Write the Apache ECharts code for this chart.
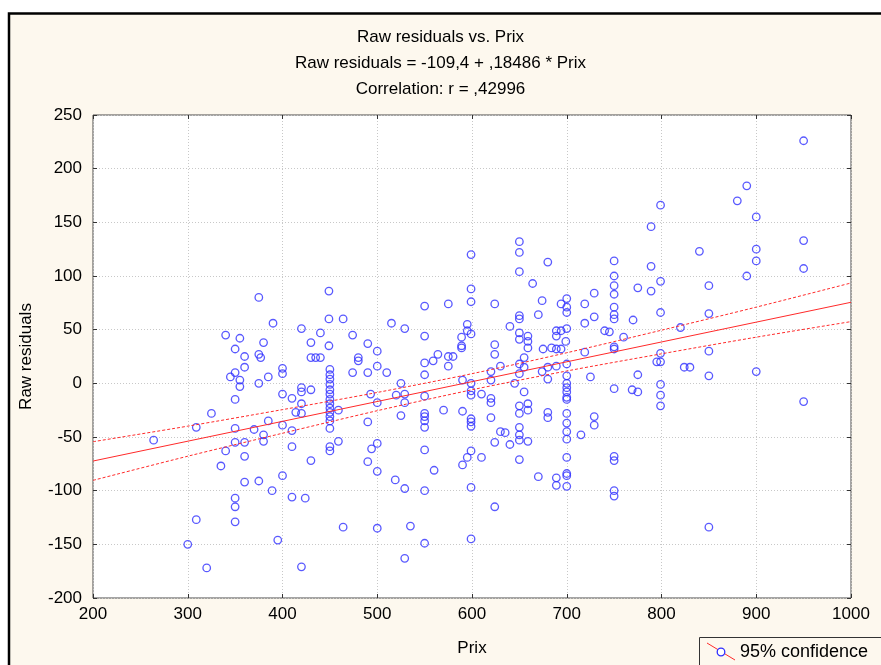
<!DOCTYPE html>
<html>
<head>
<meta charset="utf-8">
<script src="https://cdn.jsdelivr.net/npm/echarts@6/dist/echarts.min.js"></script>
<style>
  html, body { margin: 0; padding: 0; background: #fff; }
  #chart { width: 881px; height: 665px; }
</style>
</head>
<body>
<div id="chart"></div>
<script>
// residual points: [Prix, Raw residual]
const scatterPoints = [
  [375,80],[390,56],[340,45],[355,42],[380,38],[350,32],[360,25],[375,27],[377,24],
  [360,15],[350,10],[345,6],[355,3],[355,-3],[375,0],[385,6],[400,14],[400,9],[350,-15],[400,-10],[410,-14],
  [325,-28],[309,-41],[264,-53],[350,-42],[370,-43],[385,-35],[400,-39],[410,-44],[350,-55],[360,-55],[380,-48],[380,-54],
  [340,-63],[360,-68],[335,-77],[410,-59],[360,-92],[375,-91],[400,-86],[389,-100],[350,-107],[350,-115],[410,-106],
  [309,-127],[350,-129],[300,-150],[395,-146],[320,-172],
  [599,120],[449,86],[599,88],[550,72],[575,74],[599,76],[449,60],[464,60],[420,51],[440,47],[430,38],[474,45],[449,35],[490,37],[500,30],
  [515,56],[529,51],[550,44],[595,55],[595,49],[599,46],[589,43],[589,35],[589,33],[564,27],[575,25],[580,25],[559,21],[550,19],
  [430,24],[435,24],[440,24],[480,24],
  [480,21],[500,16],[474,10],[490,10],[510,10],[575,16],[550,8],[420,-4],[420,-8],[430,-6],[420,-19],[414,-27],[420,-28],[430,-72],[424,-107],[420,-171],
  [450,13],[450,8],[450,4],[450,-1],[450,-6],[450,-10],[450,-15],[450,-19],[450,-23],[450,-27],[450,-31],[450,-35],[450,-42],[450,-59],[450,-63],
  [459,-25],[459,-54],[464,-134],[493,-10],[500,-18],[490,-36],[500,-56],[494,-61],[490,-73],[500,-82],[500,-135],
  [525,0],[520,-11],[529,-10],[529,-18],[525,-30],[519,-90],[529,-98],[535,-133],[529,-163],
  [550,-12],[550,-28],[550,-31],[550,-35],[550,-41],[550,-62],[550,-100],[550,-149],[570,-25],[560,-81],
  [590,3],[590,-26],[599,0],[599,-7],[599,-11],[599,-33],[599,-36],[599,-40],[599,-63],[595,-69],[590,-76],[610,-69],[599,-97],[599,-145],
  [799,166],[789,146],[750,114],[750,100],[750,91],[750,83],[750,71],[750,64],[750,60],[789,109],[799,95],[789,86],[775,89],[799,66],[770,59],
  [650,132],[650,122],[650,104],[680,113],[664,93],[624,74],[674,77],[650,63],[650,60],[670,64],[640,53],[650,47],[650,41],
  [659,44],[659,39],[659,33],[624,36],[624,27],[655,24],[675,32],[684,33],[689,49],[694,49],[700,51],[689,44],
  [694,74],[700,79],[700,71],[700,66],[699,39],[689,32],[694,32],[719,74],[729,84],[719,56],[729,62],[740,49],[745,48],[760,43],[750,34],[750,32],[719,29],[799,28],
  [700,18],[689,16],[680,15],[674,11],[680,4],[650,18],[650,9],[655,15],[630,16],[620,11],[620,3],[645,0],[655,-8],
  [610,-10],[620,-14],[620,-18],[620,-32],[650,-21],[650,-28],[659,-19],[659,-25],[650,-41],[650,-48],[650,-53],[640,-57],[630,-45],[635,-46],[624,-55],[659,-54],[650,-71],[624,-115],
  [680,-27],[680,-32],[670,-87],[689,-88],[689,-95],
  [700,7],[700,0],[700,-4],[700,-8],[700,-13],[700,-15],[700,-28],[700,-37],[700,-45],[700,-52],[700,-69],[700,-84],[700,-86],[700,-96],
  [725,6],[715,-48],[729,-31],[729,-39],[750,-5],[750,-68],[750,-72],[750,-100],[750,-105],[769,-6],[775,-8],[775,8],[795,20],[799,20],[799,-1],[799,-11],[799,-21],
  [950,226],[890,184],[880,170],[900,155],[950,133],[840,123],[900,125],[900,114],[950,107],[850,91],[890,100],[850,65],[820,52],[850,30],
  [824,15],[830,15],[850,7],[900,11],[950,-17],[850,-134]
]

// fitted line: Raw residuals = -109,4 + ,18486 * Prix
const fitPrix = [200, 1000]
const fitValues = [-72.4, 75.5]

// 95% confidence band, read at each 100
const bandPrix = [200, 300, 400, 500, 600, 700, 800, 900, 1000]
const bandUpper = [-54.4, -39.9, -24.5, -8.5, 9, 28.5, 49.5, 71, 93.5]
const bandLower = [-90.4, -67.9, -46.5, -25.5, -6, 11.5, 27.5, 43, 57.5]

const titleLines = ['Raw residuals vs. Prix', 'Raw residuals = -109,4 + ,18486 * Prix', 'Correlation: r = ,42996']

const FONT = '"Liberation Sans", Arial, sans-serif'
const BLUE = '#2f2fff'
const RED = '#ff2a2a'

const chart = echarts.init(document.getElementById('chart'))

const pair = (xs, ys) => xs.map((x, i) => [x, ys[i]])

// shared look for the axes; the top / right copies only carry inward ticks
const tickAxisX = (position, showLabel) => ({
  type: 'value',
  position,
  min: 200,
  max: 1000,
  interval: 100,
  axisLine: { show: false, onZero: false },
  axisTick: { show: true, inside: true, length: 4, lineStyle: { color: '#333' } },
  axisLabel: { show: showLabel, color: '#000', fontSize: 17, fontFamily: FONT, margin: 8, formatter: v => String(v) },
  splitLine: { show: showLabel, lineStyle: { color: '#c8c8c8', type: [1, 2] } }
})

const tickAxisY = (position, showLabel) => ({
  type: 'value',
  position,
  min: -200,
  max: 250,
  interval: 50,
  axisLine: { show: false, onZero: false },
  axisTick: { show: true, inside: true, length: 4, lineStyle: { color: '#333' } },
  axisLabel: { show: showLabel, color: '#000', fontSize: 17, fontFamily: FONT, margin: 11, formatter: v => String(v) },
  splitLine: { show: showLabel, lineStyle: { color: '#c8c8c8', type: [1, 2] } }
})

const xMain = tickAxisX('bottom', true)
xMain.name = 'Prix'
xMain.nameLocation = 'middle'
xMain.nameGap = 42
xMain.nameTextStyle = { color: '#000', fontSize: 17, fontFamily: FONT }

const yMain = tickAxisY('left', true)
yMain.name = 'Raw residuals'
yMain.nameLocation = 'middle'
yMain.nameGap = 58
yMain.nameTextStyle = { color: '#000', fontSize: 17, fontFamily: FONT }

const option = {
  animation: false,
  backgroundColor: '#ffffff',
  title: titleLines.map((t, i) => ({
    text: t,
    left: 'center',
    top: 27 + i * 26,
    padding: 0,
    textStyle: { color: '#000', fontSize: 17, fontWeight: 'normal', fontFamily: FONT, lineHeight: 20 }
  })),
  grid: {
    left: 93,
    right: 30,
    top: 115,
    bottom: 67,
    show: true,
    backgroundColor: '#ffffff',
    borderColor: '#4a4a4a',
    borderWidth: 1
  },
  xAxis: [xMain, tickAxisX('top', false)],
  yAxis: [yMain, tickAxisY('right', false)],
  graphic: [
    {
      type: 'rect',
      z: -10,
      silent: true,
      shape: { x: 9, y: 13.5, width: 900, height: 700 },
      style: { fill: '#fdf8ee', stroke: '#000', lineWidth: 2.5 }
    },
    {
      type: 'group',
      left: 699,
      top: 637,
      children: [
        { type: 'rect', shape: { x: 0.5, y: 0.5, width: 200, height: 40 }, style: { fill: '#fdf8ee', stroke: '#333', lineWidth: 1 } },
        { type: 'line', shape: { x1: 8, y1: 6, x2: 36, y2: 23 }, style: { stroke: RED, lineWidth: 1 } },
        { type: 'circle', shape: { cx: 22, cy: 15, r: 3.8 }, style: { fill: '#fff', stroke: BLUE, lineWidth: 1.3 } },
        { type: 'text', style: { x: 41, y: 15, text: '95% confidence', fill: '#000', font: '18px ' + FONT, textVerticalAlign: 'middle' } }
      ]
    }
  ],
  series: [
    {
      type: 'scatter',
      name: '95% confidence',
      data: scatterPoints,
      symbol: 'circle',
      symbolSize: 7.5,
      itemStyle: { color: 'rgba(0,0,0,0)', borderColor: BLUE, borderWidth: 1.3 },
      z: 3
    },
    {
      type: 'line',
      data: pair(fitPrix, fitValues),
      showSymbol: false,
      lineStyle: { color: RED, width: 1 },
      z: 4
    },
    {
      type: 'line',
      data: pair(bandPrix, bandUpper),
      showSymbol: false,
      smooth: 0.3,
      lineStyle: { color: RED, width: 1, type: [3, 2] },
      z: 4
    },
    {
      type: 'line',
      data: pair(bandPrix, bandLower),
      showSymbol: false,
      smooth: 0.3,
      lineStyle: { color: RED, width: 1, type: [3, 2] },
      z: 4
    }
  ]
}

chart.setOption(option)
</script>
</body>
</html>
